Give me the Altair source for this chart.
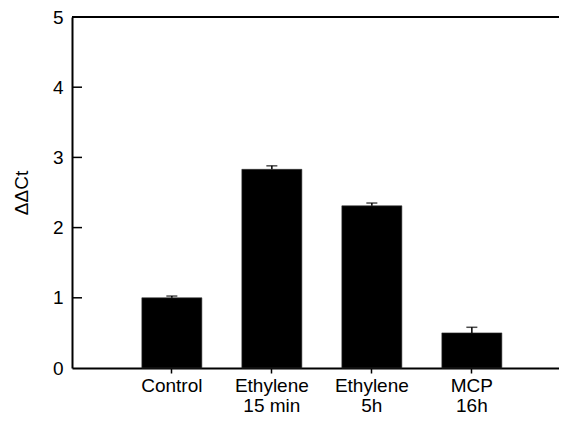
import altair as alt
import pandas as pd

categories = ["Control", "Ethylene|15 min", "Ethylene|5h", "MCP|16h"]
values = [1.0, 2.83, 2.31, 0.50]
errors = [0.025, 0.05, 0.04, 0.08]
y_ticks = [0, 1, 2, 3, 4, 5]
inner_ticks = [1, 2, 3, 4]

df = pd.DataFrame({
    "cat": categories,
    "value": values,
    "top": [v + e for v, e in zip(values, errors)],
})

FONT = "Liberation Sans"

xscale = alt.Scale(paddingInner=0.4, paddingOuter=0.635, align=0.55)
yscale = alt.Scale(domain=[0, 5], nice=False)

base = alt.Chart(df)

bars = base.mark_bar(color="black", stroke="#333333", strokeWidth=0.6).encode(
    x=alt.X("cat:N", sort=categories, scale=xscale, title=None,
            axis=alt.Axis(labelAngle=0, labelExpr="split(datum.label, '|')",
                          labelFont=FONT, labelFontSize=19, labelColor="black",
                          labelLineHeight=20, labelPadding=3,
                          tickSize=5, tickWidth=1.5, tickColor="black",
                          domainColor="black", domainWidth=2, grid=False)),
    y=alt.Y("value:Q", scale=yscale, title="ΔΔCt",
            axis=alt.Axis(values=y_ticks, format="d", grid=False, ticks=False, tickSize=0,
                          labelFont=FONT, labelFontSize=19, labelColor="black",
                          labelPadding=9,
                          titleFont=FONT, titleFontSize=19, titleFontWeight="normal",
                          titleColor="black", titlePadding=21,
                          domainColor="black", domainWidth=2)),
)

err = base.mark_rule(color="black", strokeWidth=1.5).encode(
    x=alt.X("cat:N", sort=categories),
    y="value:Q",
    y2="top:Q",
)

caps = base.mark_tick(color="black", thickness=1.5, size=11).encode(
    x=alt.X("cat:N", sort=categories),
    y="top:Q",
)

top_line = alt.Chart(pd.DataFrame({"y": [5]})).mark_rule(
    color="black", strokeWidth=2).encode(y="y:Q")

inner = alt.Chart(pd.DataFrame({"t": inner_ticks})).mark_rule(
    color="black", strokeWidth=1.5).encode(
    y="t:Q", x=alt.value(0), x2=alt.value(10))

chart = alt.layer(bars, err, caps, top_line, inner).properties(
    width=487, height=351,
    autosize=alt.AutoSizeParams(type="none"),
    padding={"left": 64, "top": 9, "right": 0, "bottom": 47},
).configure_view(stroke=None)

chart.save("out.html", embed_options={"renderer": "svg", "actions": False})
